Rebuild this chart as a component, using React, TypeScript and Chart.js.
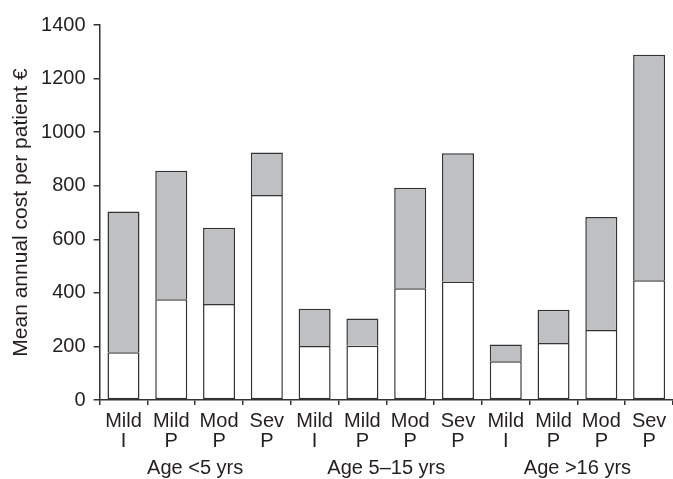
import React, { useEffect, useRef } from "react";
import { Chart, registerables } from "chart.js";

Chart.register(...registerables);

const categoryLabels: string[][] = [
  ["Mild", "I"], ["Mild", "P"], ["Mod", "P"], ["Sev", "P"],
  ["Mild", "I"], ["Mild", "P"], ["Mod", "P"], ["Sev", "P"],
  ["Mild", "I"], ["Mild", "P"], ["Mod", "P"], ["Sev", "P"],
];
const groupLabels: string[] = ["Age <5 yrs", "Age 5\u201315 yrs", "Age >16 yrs"];
const lowerSegment: number[] = [178, 376, 358, 765, 202, 203, 417, 442, 145, 213, 261, 447];
const upperSegment: number[] = [526, 480, 285, 159, 139, 101, 375, 479, 62, 124, 422, 842];
const yTicks = { min: 0, max: 1400, step: 200 };

const FONT = "'Liberation Sans', Arial, Helvetica, sans-serif";
const INK = "#231f20";
const EDGE = "#333333";

export default function App() {
  const ref = useRef<HTMLCanvasElement | null>(null);
  useEffect(() => {
    if (!ref.current) return;
    const chart = new Chart(ref.current, {
      type: "bar",
      data: {
        labels: categoryLabels,
        datasets: [
          {
            data: lowerSegment,
            backgroundColor: "#ffffff",
            borderColor: EDGE,
            borderWidth: 1.5,
            borderSkipped: false,
            categoryPercentage: 1,
            barPercentage: 0.67,
          },
          {
            data: upperSegment,
            backgroundColor: "#bfc0c2",
            borderColor: EDGE,
            borderWidth: 1.5,
            borderSkipped: "start",
            categoryPercentage: 1,
            barPercentage: 0.67,
          },
        ],
      },
      options: {
        animation: false,
        responsive: true,
        maintainAspectRatio: false,
        layout: { padding: { left: 10, right: 0, top: 25, bottom: 0 } },
        plugins: { legend: { display: false }, tooltip: { enabled: false } },
        scales: {
          x: {
            stacked: true,
            offset: true,
            grid: { drawOnChartArea: false, drawTicks: true, tickLength: 5, color: EDGE, lineWidth: 1.5 },
            border: { display: true, color: EDGE, width: 1.5 },
            ticks: {
              color: INK,
              font: { family: FONT, size: 20, lineHeight: 1.0 },
              padding: 6,
              maxRotation: 0,
              autoSkip: false,
            },
          },
          x2: {
            type: "category",
            labels: groupLabels,
            position: "bottom",
            offset: true,
            grid: { display: false, drawTicks: false },
            border: { display: false },
            ticks: {
              color: INK,
              font: { family: FONT, size: 20, lineHeight: 1.1 },
              padding: 0,
              maxRotation: 0,
              autoSkip: false,
            },
          },
          y: {
            stacked: true,
            min: yTicks.min,
            max: yTicks.max,
            grid: { drawOnChartArea: false, drawTicks: true, tickLength: 6, color: EDGE, lineWidth: 1.5 },
            border: { display: true, color: EDGE, width: 1.5 },
            ticks: {
              stepSize: yTicks.step,
              color: INK,
              font: { family: FONT, size: 20 },
              padding: 8,
              callback: (v: any) => String(v),
            },
            title: {
              display: true,
              text: "Mean annual cost per patient \u20ac",
              color: INK,
              font: { family: FONT, size: 21, lineHeight: 1.1 },
              padding: { top: 0, bottom: 0 },
            },
          },
        },
      },
    });
    return () => chart.destroy();
  }, []);
  return (
    <div style={{ position: "fixed", left: 0, top: 0, width: 673, height: 479, background: "#fff" }}>
      <canvas ref={ref} />
    </div>
  );
}
